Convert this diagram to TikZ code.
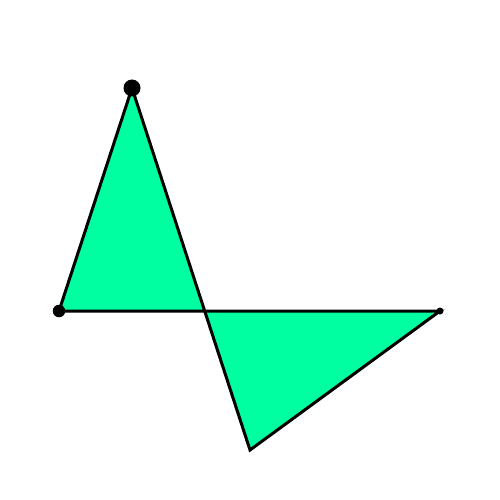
\documentclass[tikz,border=0pt]{standalone}
\begin{document}
\begin{tikzpicture}[x=1pt,y=-1pt,
  edge/.style={draw=black,line width=3pt,line join=miter},
  dot/.style={circle,fill=black,inner sep=0pt}]
\useasboundingbox (0,0) rectangle (500,500);
\coordinate (A) at (59,311);
\coordinate (B) at (132,88);
\coordinate (C) at (250,450);
\coordinate (D) at (440,311);
\fill[fill={rgb,255:red,0;green,255;blue,160}] (A) -- (B) -- (C) -- (D) -- cycle;
\draw[edge] (A) -- (B) -- (C) -- (D) -- cycle;
\node[dot,minimum size=17pt] (b) at (B) {};
\node[dot,minimum size=12.5pt] (a) at (A) {};
\node[dot,minimum size=7pt] (d) at (D) {};
\end{tikzpicture}
\end{document}
